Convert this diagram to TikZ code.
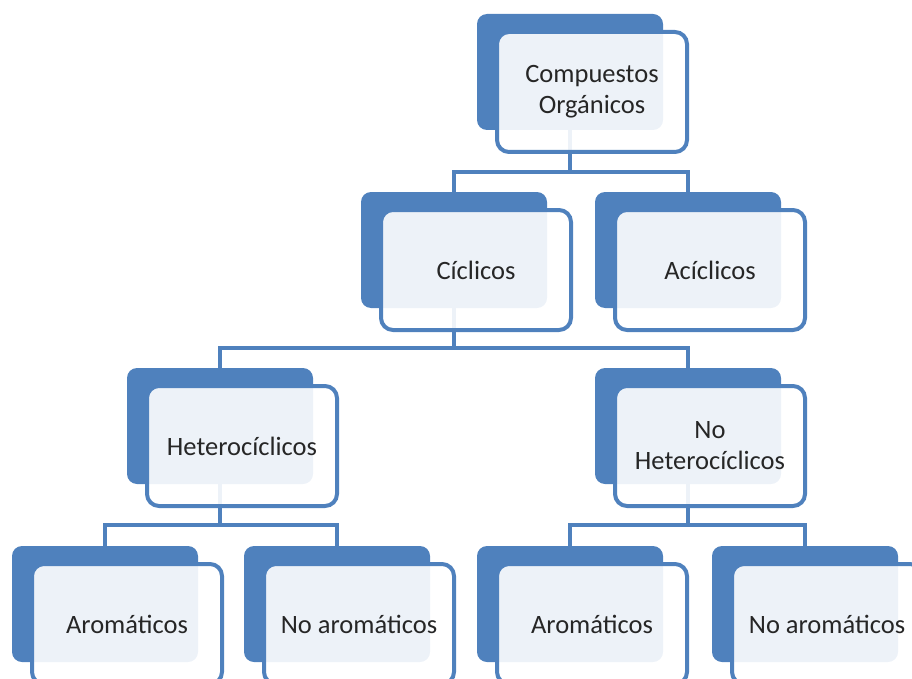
\documentclass[tikz,border=0pt]{standalone}
\usepackage{fontspec}
\setmainfont{Carlito}
\usetikzlibrary{positioning}
\definecolor{azul}{RGB}{79,129,189}

\begin{document}
\begin{tikzpicture}[x=1pt,y=-1pt]
	\tikzstyle{fondo}=[rectangle,rounded corners=10pt,fill=azul,minimum width=186pt,minimum height=116pt,inner sep=0pt]
	\tikzstyle{caja}=[rectangle,rounded corners=12pt,draw=azul,line width=4pt,fill=white,fill opacity=0.9,text opacity=1,text=black!85,minimum width=190pt,minimum height=120pt,inner sep=0pt,align=center,font=\fontsize{26.5}{31}\selectfont]
	\tikzstyle{rama}=[draw=azul,line width=4pt]

	\useasboundingbox (0,0) rectangle (912,679);
	\clip (0,0) rectangle (912,679);

	% fondos
	\node[fondo] (co-f) at (570,72) {};
	\node[fondo] (cic-f) at (454,250) {};
	\node[fondo] (aci-f) at (688,250) {};
	\node[fondo] (het-f) at (220,426) {};
	\node[fondo] (nohet-f) at (688,426) {};
	\node[fondo] (aro1-f) at (105,604) {};
	\node[fondo] (noaro1-f) at (337,604) {};
	\node[fondo] (aro2-f) at (570,604) {};
	\node[fondo] (noaro2-f) at (805,604) {};

	% ramas
	\draw[rama] (co-f.south) -- ++(0,42) coordinate (b1);
	\draw[rama] (cic-f.north) |- (b1) -| (aci-f.north);
	\draw[rama] (cic-f.south) -- ++(0,40) coordinate (b2);
	\draw[rama] (het-f.north) |- (b2) -| (nohet-f.north);
	\draw[rama] (het-f.south) -- ++(0,41) coordinate (b3);
	\draw[rama] (aro1-f.north) |- (b3) -| (noaro1-f.north);
	\draw[rama] (nohet-f.south) -- ++(0,41) coordinate (b4);
	\draw[rama] (aro2-f.north) |- (b4) -| (noaro2-f.north);

	% cajas
	\node[caja] (co) at ([shift={(22,20)}]co-f.center) {Compuestos\\Orgánicos};
	\node[caja] (cic) at ([shift={(22,20)}]cic-f.center) {Cíclicos};
	\node[caja] (aci) at ([shift={(22,20)}]aci-f.center) {Acíclicos};
	\node[caja] (het) at ([shift={(22,20)}]het-f.center) {Heterocíclicos};
	\node[caja] (nohet) at ([shift={(22,20)}]nohet-f.center) {No\\Heterocíclicos};
	\node[caja] (aro1) at ([shift={(22,20)}]aro1-f.center) {Aromáticos};
	\node[caja] (noaro1) at ([shift={(22,20)}]noaro1-f.center) {No aromáticos};
	\node[caja] (aro2) at ([shift={(22,20)}]aro2-f.center) {Aromáticos};
	\node[caja] (noaro2) at ([shift={(22,20)}]noaro2-f.center) {No aromáticos};
\end{tikzpicture}
\end{document}
